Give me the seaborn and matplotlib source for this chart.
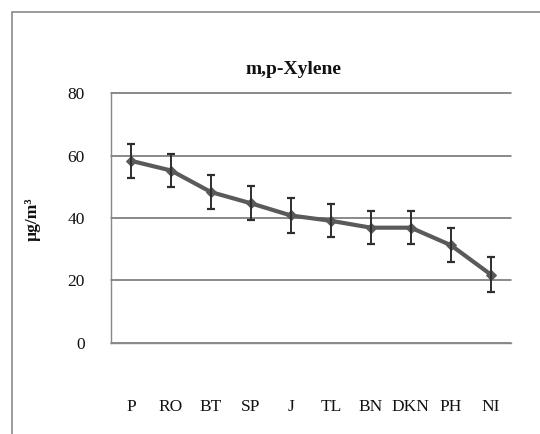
import seaborn as sns
import matplotlib.pyplot as plt
from matplotlib.patches import Rectangle
import pandas as pd

# Values
sites = ['P', 'RO', 'BT', 'SP', 'J', 'TL', 'BN', 'DKN', 'PH', 'NI']
conc = [58.3, 55.2, 48.3, 44.7, 40.8, 39.1, 36.9, 36.9, 31.3, 21.9]
err = [5.4, 5.4, 5.4, 5.4, 5.5, 5.3, 5.3, 5.3, 5.4, 5.5]

df = pd.DataFrame({'pos': range(len(sites)), 'site': sites, 'conc': conc, 'err': err})

sns.set_style('white')
plt.rcParams['font.family'] = ['Liberation Serif', 'DejaVu Serif']

fig = plt.figure(figsize=(5.4, 4.34), dpi=100)
ax = fig.add_axes([0.2056, 0.2097, 0.7404, 0.576])

# outer chart border (partially visible, like a cropped Excel frame)
fig.patches.append(Rectangle((0.022, -0.2), 1.2, 1.172, transform=fig.transFigure,
                             fill=False, edgecolor='#8a8a8a', linewidth=1.2))

sns.lineplot(data=df, x='pos', y='conc', ax=ax, color='#5a5a5a', linewidth=3,
             marker='D', markersize=5, markeredgecolor='#5a5a5a')
ax.errorbar(df['pos'], df['conc'], yerr=df['err'], fmt='none', ecolor='#2e2e2e',
            elinewidth=1.4, capsize=3, capthick=1.6)

ax.set_xlim(-0.5, len(sites) - 0.5)
ax.set_ylim(0, 80)
ax.set_yticks([0, 20, 40, 60, 80])
ax.yaxis.grid(True, color='#6a6a6a', linewidth=1.1)
ax.xaxis.grid(False)
for gl in ax.get_ygridlines():
    gl.set_clip_on(False)

ax.set_xticks(df['pos'])
ax.set_xticklabels(sites)
ax.set_xticks([i - 0.5 for i in range(len(sites) + 1)], minor=True)
ax.tick_params(axis='x', which='major', length=0, pad=40, labelsize=12.5, labelcolor='#111111')
ax.tick_params(axis='x', which='minor', length=7, width=1, color='#888888', direction='out')
ax.tick_params(axis='y', length=6, width=1.1, color='#6a6a6a', direction='out', pad=13,
               labelsize=12.5, labelcolor='#111111')

for side in ['top', 'right']:
    ax.spines[side].set_visible(False)
for side in ['left', 'bottom']:
    ax.spines[side].set_color('#888888')
    ax.spines[side].set_linewidth(1)

ax.set_xlabel('')
ax.set_ylabel('')
fig.text(0.061, 0.495, 'µg/m³', rotation=90, ha='center', va='center',
         fontsize=12.5, fontweight='bold', color='#111111')
fig.text(0.543, 0.839, 'm,p-Xylene', ha='center', va='center',
         fontsize=14, fontweight='bold', color='#111111')

fig.savefig('out.png', dpi=100)
